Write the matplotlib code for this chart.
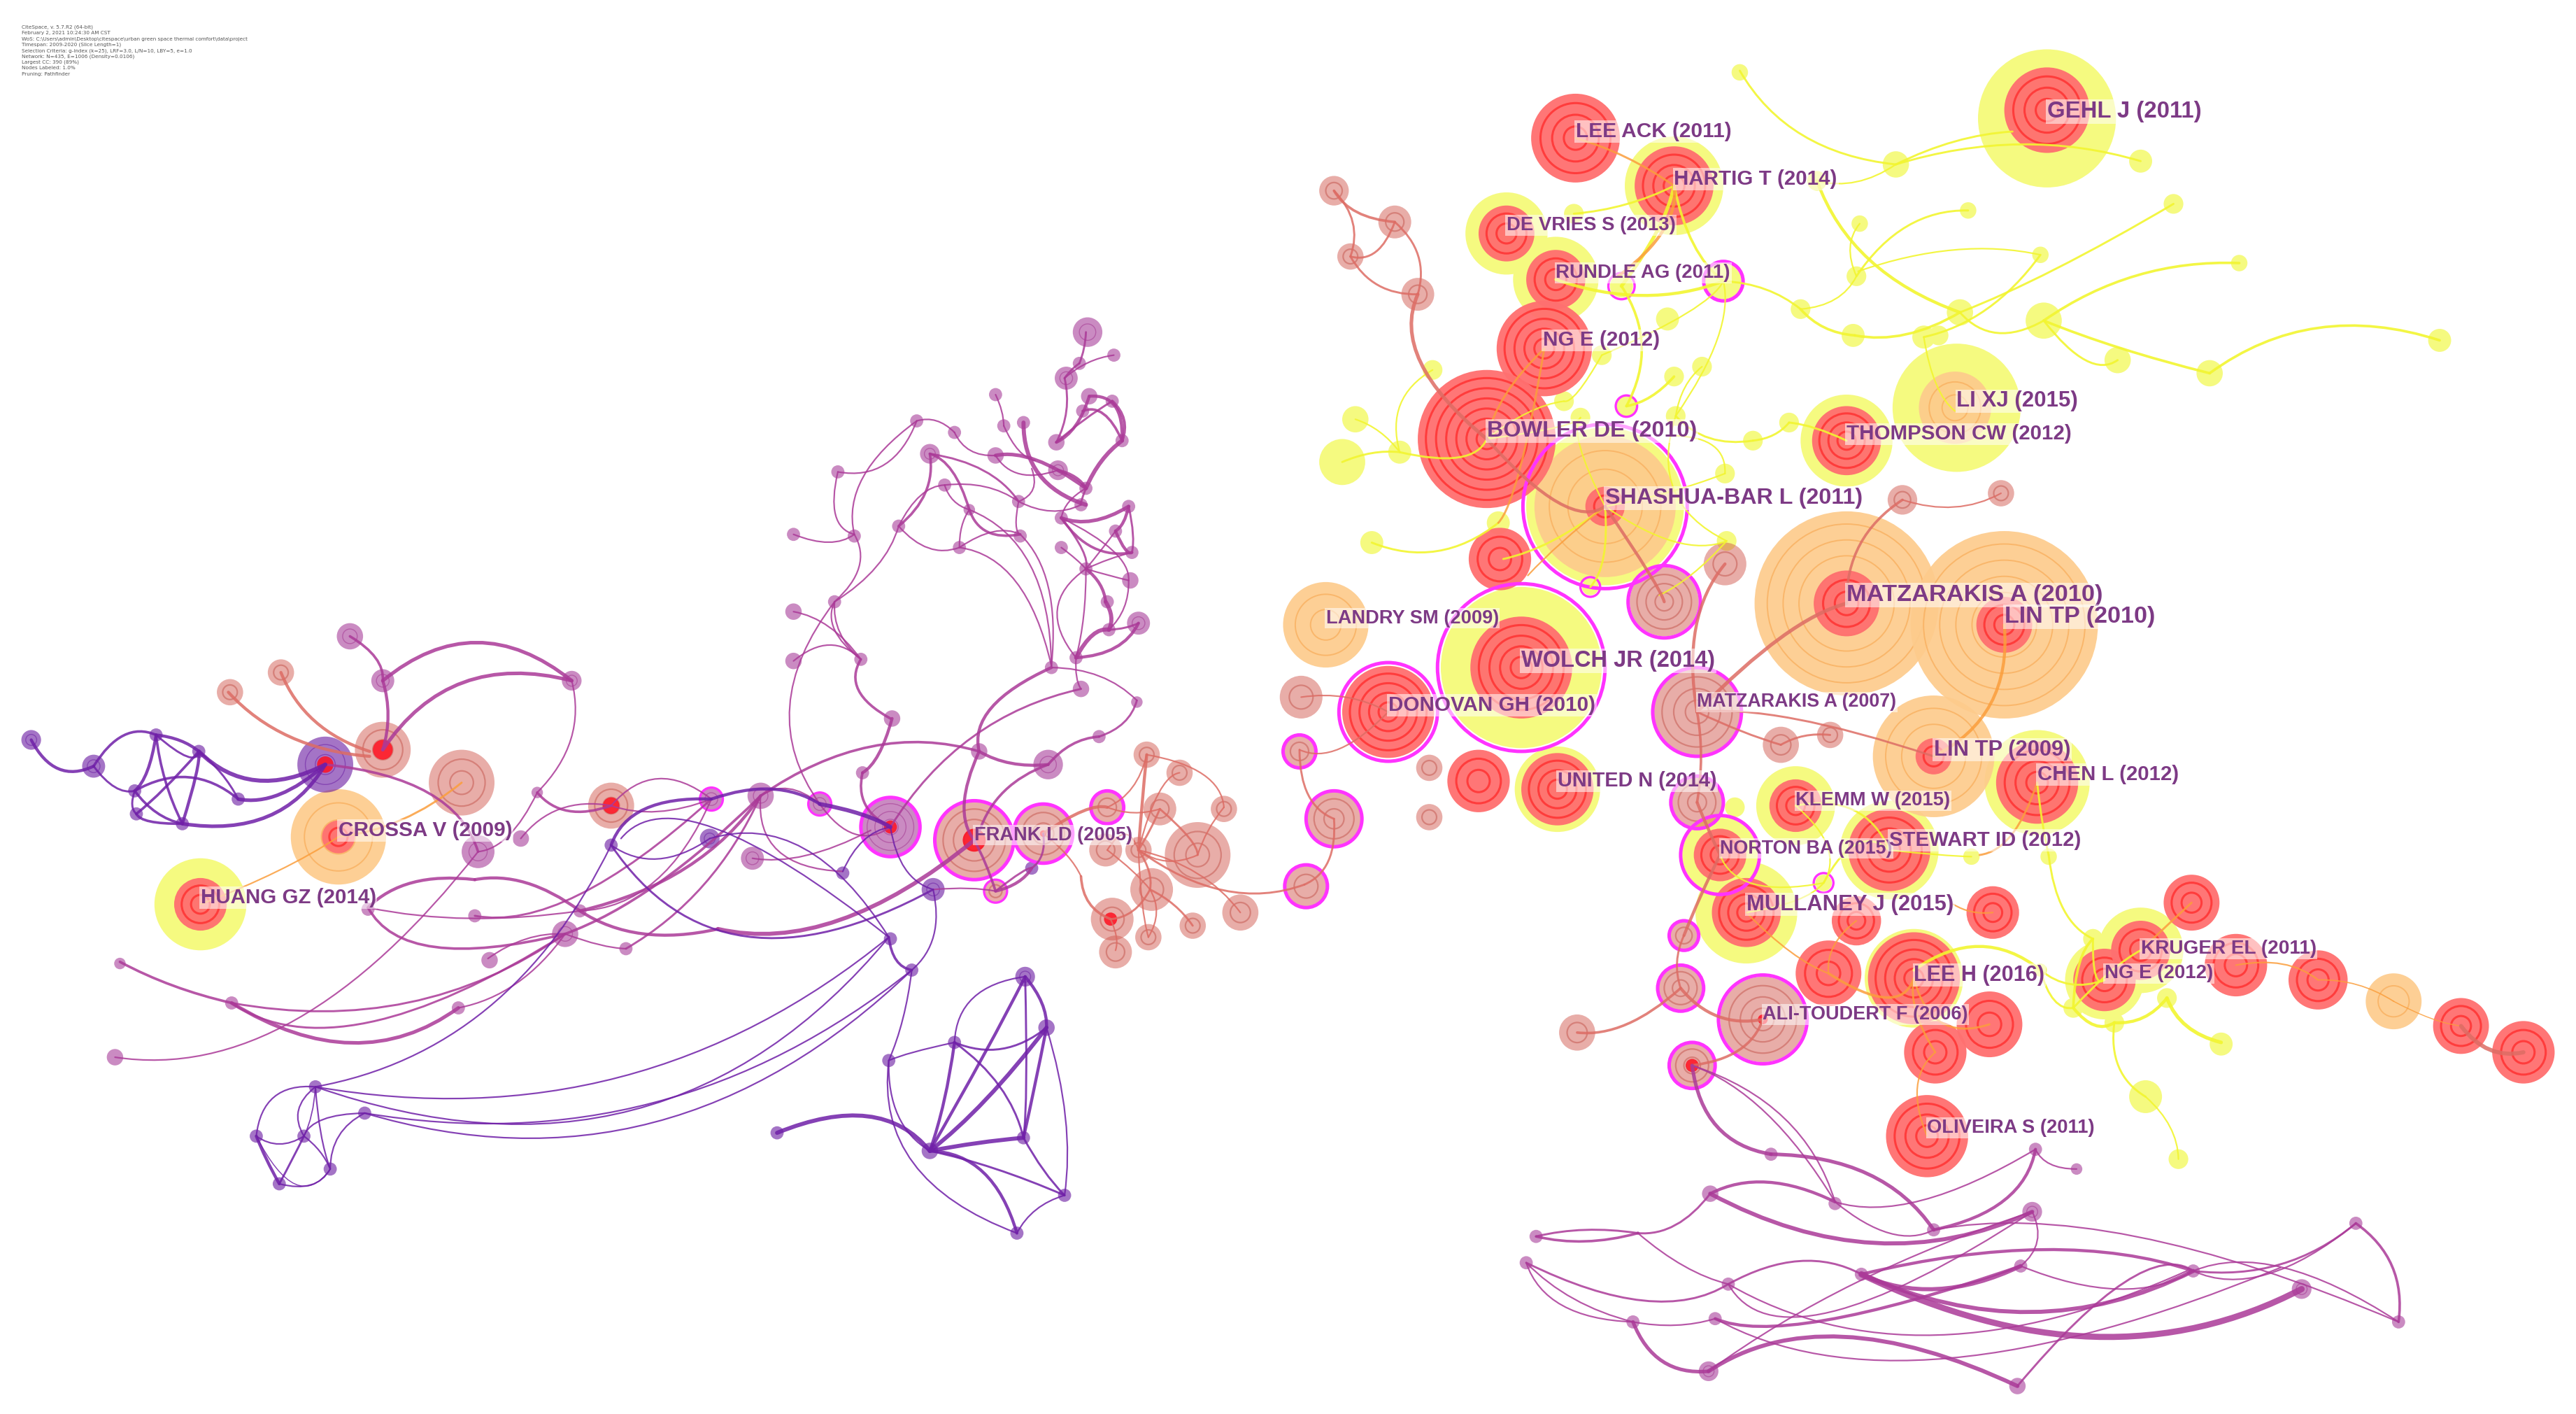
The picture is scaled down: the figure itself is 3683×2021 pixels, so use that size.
import matplotlib
matplotlib.use("Agg")
import matplotlib.pyplot as plt
from matplotlib.patches import Circle, PathPatch
from matplotlib.path import Path

# ---------- nodes: citation tree rings, (x, y) in layout units, radius = citation size ----------
yellow_x = [1246,1019,917,947,1191,1124,977,926,1240,948,1093,1047,1150,1063,1165,1281,1303,122,
            817,825,1154,958,1106,1132,1130,1096,1128,1171,1049,987,1015,975,1036,1019,990,952,962,1020,1089,1067,1050,872,852,912,835,1051,968,
            1059,1303,1323,1198,1242,1363,1193,1244,1180,1289,1345,1485,1110,
            1247,1200,1274,1262,1287,1319,1352,1306,1326,1242,1056]
yellow_y = [72,113,142,170,248,268,308,406,476,480,490,520,517,555,595,596,578,550,
            281,255,100,130,110,136,168,188,204,205,171,174,194,216,223,229,247,244,254,253,257,268,288,225,275,318,330,329,357,
            44,98,124,128,155,160,190,195,204,219,227,207,537,
            521,521,571,613,622,607,635,667,705,590,491]
yellow_r = [42,30,25,26,39,28,48,49,32,26,24,23,30,31,30,24,26,28,
            14,8,8,6,6,5,6,6,7,7,11,7,7,6,6,6,6,6,6,6,6,6,6,6,7,7,7,6,5,
            5,7,6,5,5,5,8,11,6,8,8,7,5,
            5,5,6,6,6,6,7,10,6,4,6]

orange_x = [977,1190,1124,1220,807,1177,1457,206]
orange_y = [308,248,367,380,380,460,609,509]
orange_r = [43,22,56,57,26,37,17,29]

red_x = [1246,959,1019,917,947,940,905,977,913,1124,1124,1220,926,845,1177,1240,948,900,1093,1047,1150,1063,
         1130,1213,1165,1113,1211,1178,1173,1281,1303,1334,1361,1411,1498,1536,122,206]
red_y = [67,84,113,142,170,212,267,308,340,268,367,380,406,433,460,476,480,475,490,520,517,555,
         560,555,595,592,623,640,691,596,578,549,587,596,624,640,550,509]
red_r = [26,27,24,17,18,29,42,12,19,21,20,17,31,28,11,25,22,19,16,16,25,21,
         15,16,28,20,20,19,25,19,18,17,19,18,17,19,16,10]

rose_x = [812,849,822,863,1013,1050,1158,1218,1033,1084,1114,870,870,792,1033,1025,1023,1073,960,1030,
          233,281,171,140,372,593,635,606,
          698,718,706,745,674,729,673,693,701,677,699,679,726,755,791,812,795]
rose_y = [116,135,156,179,366,343,304,300,433,453,447,467,497,424,488,569,601,620,628,648,
          456,476,409,421,490,511,507,542,
          459,470,492,492,491,520,517,517,541,559,570,579,563,555,457,498,539]
rose_r = [9,10,8,10,21,13,9,8,27,11,8,8,8,13,16,9,14,26,11,14,
          17,20,8,8,14,24,18,7,
          8,8,10,8,10,20,10,8,13,13,8,10,8,11,10,17,13]

mauve_x = [662,678,657,649,663,677,659,643,683,606,611,623,558,581,566,606,644,661,510,575,620,658,687,646,590,679,621,520,483,547,
           584,646,689,661,688,674,508,483,693,675,524,483,640,655,658,692,669,543,596,638,525,542,499,463,433,291,317,213,233,348,327,458,289,344,353,381,298,224,73,141,279,70,
           1239,1264,1078,1041,1117,1237,1177,935,929,1434,1335,1230,1133,1052,1401,994,1044,1460,1040,1228,997]
mauve_y = [202,216,221,230,241,244,250,269,268,240,259,257,256,263,276,277,286,297,287,295,305,307,308,315,310,323,326,326,325,320,
           333,333,336,346,353,366,366,372,379,383,401,402,406,400,419,427,448,437,457,465,470,503,489,484,486,518,510,387,414,414,482,522,557,568,554,577,584,553,586,610,613,643,
           699,711,702,726,732,737,748,752,768,744,773,770,775,781,784,804,802,804,834,843,750]
mauve_r = [9,4,4,7,5,4,4,5,4,4,4,4,4,4,6,5,6,4,4,4,4,4,4,4,3.5,4,4,4,4,4,
           4,4,4,4,5,4,4,5,7,4,4,5,4,4,5,3.5,4,5,5,9,4,18,7,8,7,10,5,8,7,6,3.5,7,4,8,4,4,5,4,3.5,4,4,5,
           4,3.5,4,5,4,6,4,4,4,4,4,4,4,4,6,4,4,4,6,5,1]

violet_x = [198,19,57,95,121,82,83,111,145,372,432,513,568,542,555,192,222,156,185,201,170,581,541,473,566,624,637,623,648,619,628]
violet_y = [465,450,466,447,457,481,495,501,486,514,510,531,541,571,590,661,677,691,691,711,720,634,645,689,700,594,625,692,727,750,528]
violet_r = [17,6,7,4,4,4,4,4,4,4,6,4,7,4,4,4,4,4,4,4,4,4,4,4,5,6,5,4,4,4,4]

# citation bursts / high-centrality purple rims
rim_x = [977,926,845,1013,1033,1033,1047,1110,1025,1023,1073,1030,1049,987,990,968,593,635,674,606,542,499,433,791,812,795]
rim_y = [308,406,433,366,433,488,520,537,569,601,620,648,171,174,247,357,511,507,491,542,503,489,486,457,498,539]
rim_r = [50,51,30,22,27,16,24,6,9,14,27,14,12,8,6.5,6,24,18,10,7,18,7,7,10,17,13]

core_x = [198,233,372,593,542,676,1030,1073,635]
core_y = [465,456,490,511,503,559,648,620,507]
core_r = [5,6,5,7,4,4,4,3,2]

# ---------- edges: start, point on the curve, end, co-citation strength ----------
yellow_edges = [
 (1059,43,1095,85,1154,100,2),(1154,100,1190,85,1225,80,2),(1106,110,1130,112,1154,100,1.5),(1154,100,1230,85,1303,98,2),
 (1106,110,1135,160,1193,190,3),(1193,190,1250,165,1323,124,2),(1244,195,1300,165,1363,160,2.5),(1129,204,1160,205,1193,190,2.5),
 (1096,188,1110,200,1129,204,2.5),(1049,171,1075,175,1096,188,2),(1096,188,1118,183,1130,168,1.5),(1130,168,1125,150,1132,136,1.5),
 (1130,168,1160,135,1198,128,2),(1171,205,1210,190,1242,155,2),(1193,190,1215,205,1244,195,2),(1171,205,1178,235,1190,250,1.5),
 (1244,195,1290,212,1345,227,2.5),(1345,227,1410,195,1485,207,2.5),(1289,219,1270,222,1244,195,2),(1131,165,1190,150,1242,155,1.5),
 (1019,113,990,125,958,130,2),(1019,113,1010,140,987,174,3.5),(1019,113,1030,150,1049,171,2.5),(947,170,1000,182,1049,171,3),
 (987,174,1002,210,990,247,2.5),(1049,171,1048,205,1020,253,1.5),(1049,171,1030,190,975,216,1.5),(990,247,1005,242,1019,229,2.5),
 (975,216,960,240,952,244,1.5),(1036,223,1025,235,1020,253,1.5),(1020,253,1015,300,1051,329,1.5),(872,225,850,245,852,275,1.5),
 (825,255,840,262,852,275,1.5),(817,281,835,275,852,275,2),(852,275,890,280,905,267,2),(952,244,930,250,905,267,1.5),
 (962,254,950,260,905,267,1.5),(1020,253,1040,268,1067,268,2),(1067,268,1080,265,1089,257,2),(1089,257,1105,260,1124,268,2),
 (1020,265,1045,270,1050,288,1.5),(977,308,1015,300,1050,288,1.5),(977,308,1020,332,1051,329,1.5),(835,330,875,338,912,318,2),
 (977,308,977,340,968,357,2),(977,308,945,330,915,340,2),(1051,329,1030,350,1010,362,1.5),(977,308,960,270,962,254,1.5),
 (1247,520,1255,555,1274,571,2),(1240,476,1243,500,1247,520,2),(1319,607,1330,625,1352,634,3.5),(1287,622,1288,650,1306,667,2),
 (1306,667,1322,685,1326,705,1.5),(1242,590,1205,572,1165,590,3),(1242,590,1260,600,1281,596,2),(1242,590,1250,610,1262,613,2),
 (1262,613,1275,625,1287,622,3),(1287,622,1305,620,1319,607,3),(1274,571,1265,585,1262,613,2.5),(1274,571,1275,595,1281,596,2),
 (1110,537,1095,548,1063,555,1.5),(1110,537,1130,510,1150,517,2),(1093,490,1130,490,1150,517,2),(1093,490,1115,515,1110,537,1.5),
 (1047,520,1065,540,1110,537,1.5),(1303,578,1285,590,1262,613,2),(1150,517,1180,520,1200,521,1.5),
]
orange_edges = [
 (1303,578,1320,562,1334,549,2),(1361,587,1390,585,1411,596,1.5),(1411,596,1435,598,1457,609,1.2),(1457,609,1480,620,1498,624,1),
 (1220,380,1215,430,1177,460,3),(959,84,990,95,1019,113,2),(940,212,915,240,905,267,2),(912,318,925,290,940,212,2),
 (1063,555,1090,580,1113,592,1.5),(1113,592,1150,610,1165,595,2.5),(1165,595,1180,625,1211,623,2),(1178,640,1165,660,1173,691,1.5),
 (1130,560,1115,575,1113,592,1.5),(1178,640,1165,615,1165,595,2),(1189,550,1200,555,1213,555,1.5),(122,550,170,530,206,509,1.5),
 (206,509,245,500,281,476,2),(1019,113,1015,140,985,168,3),(977,308,950,330,930,350,1.5),(1240,476,1225,510,1205,520,2),
]
rose_edges = [
 (1124,367,1085,385,1033,433,3.5),(1124,367,1130,330,1158,304,2.5),(1158,304,1190,310,1218,300,1.5),(1050,343,1030,380,1033,433,3),
 (1033,433,1090,435,1177,460,2),(1033,433,1060,445,1084,453,2),(1084,453,1098,447,1114,447,2),(977,308,1005,350,1013,366,3),
 (905,267,950,310,977,308,3),(812,116,825,130,849,135,2.5),(812,116,825,135,822,156,2),(822,156,838,155,849,135,2),
 (822,156,838,175,863,179,2),(849,135,865,155,863,179,2),(863,179,860,220,905,267,3.5),(1030,648,1060,640,1073,620,2.5),
 (960,628,990,625,1023,601,2.5),(1023,601,1045,620,1073,620,3),(1047,520,1035,545,1025,569,3),(1025,569,1020,585,1023,601,2),
 (1033,488,1040,505,1047,520,3),(1033,433,1036,460,1033,488,2.5),(1498,624,1515,640,1536,640,4),
 (139,421,175,450,225,460,3),(171,409,190,440,225,457,3),
 (635,507,660,492,674,491,3),(674,491,690,480,698,459,1.5),(674,491,690,495,706,492,1.5),(698,459,695,490,693,517,3),
 (698,459,735,470,745,491,1.5),(745,491,735,505,729,520,1.5),(718,470,705,480,693,517,1.5),(706,492,700,505,693,517,2),
 (693,517,710,525,729,520,1.5),(693,517,745,545,794,538,2),(794,538,810,525,812,498,2),(791,456,795,485,812,498,2),
 (792,424,820,423,845,433,1.5),(791,456,815,458,845,433,1.5),(693,517,700,530,700,541,2),(674,517,690,530,700,541,1.5),
 (700,541,715,550,726,563,2),(693,517,695,550,699,570,1.5),(699,570,705,555,700,541,1.5),(676,559,690,555,700,541,2),
 (693,517,730,530,755,555,1.5),(676,559,680,570,679,578,1.5),(658,533,662,550,676,559,2.5),(635,507,650,520,658,533,1.5),
 (674,517,685,505,693,517,1.5),(706,492,725,510,729,520,2),
]
mauve_edges = [
 (638,465,652,452,669,448,2.5),(669,448,685,440,692,426,2),(692,426,670,410,640,406,1.5),(658,419,590,445,542,503,2),
 (640,406,600,430,596,457,3),(596,457,585,490,593,511,3),(463,484,530,450,596,457,2.5),(596,457,615,465,638,465,3),
 (596,506,610,480,638,465,2.5),(525,470,535,460,543,437,3),(525,470,525,490,542,503,2.5),(542,437,520,420,524,401,2.5),
 (524,401,510,385,508,366,1.5),(524,401,506,383,508,366,1.5),(483,372,505,380,524,401,1.5),(483,402,505,390,524,401,1.5),
 (508,366,475,430,499,489,1.5),(508,366,535,345,547,320,1.5),(510,287,507,315,520,325,1.5),(483,325,505,331,520,325,1.5),
 (510,287,540,285,558,256,1.5),(558,256,522,290,520,325,1.5),(520,325,525,345,508,366,1.5),(558,256,570,255,581,263,1.5),
 (581,263,590,275,606,277,1.5),(566,276,565,300,547,320,2.5),(566,276,580,285,590,310,2.5),(566,276,600,285,620,305,2),
 (547,320,560,300,575,295,1.5),(575,295,600,295,620,305,1.5),(590,310,600,325,621,325,2.5),(590,310,585,320,584,333,1.5),
 (575,295,580,305,590,310,1.5),(547,320,565,335,584,333,1.5),(584,333,605,322,621,325,1.5),(584,333,620,350,640,405,1.5),
 (590,310,630,340,640,405,1.5),(621,325,640,355,640,405,1.5),(620,305,618,320,621,325,1.5),(620,305,640,312,658,307,1.5),
 (606,277,630,278,661,297,3.5),(606,277,620,290,644,286,1.5),(623,257,630,290,661,307,4),(606,240,610,250,611,259,1.5),
 (611,259,620,275,630,280,1.5),(644,286,655,290,661,297,3),(628,285,630,298,620,305,1.5),(661,297,650,305,646,315,1.5),
 (661,297,670,280,683,268,4),(661,297,658,305,658,307,2),(643,269,650,250,648,230,2),(643,269,655,260,663,241,3),
 (643,269,660,255,677,244,2),(663,241,680,245,683,268,3),(677,244,685,255,683,268,3),(659,250,672,250,683,268,2.5),
 (648,230,662,220,678,216,1.5),(661,202,660,212,657,221,2),(657,221,652,225,648,230,2),(646,315,665,318,687,308,3.5),
 (646,315,665,335,689,336,2.5),(646,315,660,335,661,346,2),(687,308,684,318,679,323,3),(687,308,690,325,689,336,2),
 (679,323,685,335,689,336,3),(661,346,670,335,679,323,1.5),(661,346,675,340,689,336,1.5),(646,333,655,340,661,346,1.5),
 (661,346,675,350,687,353,1.5),(661,346,670,355,673,366,3),(673,366,677,375,675,383,4),(687,353,685,370,675,383,1.5),
 (646,315,680,335,687,353,1.5),(661,346,640,370,655,400,1.5),(661,346,660,375,655,400,1.5),(655,400,665,385,675,383,4),
 (655,400,680,395,693,379,3),(675,383,685,382,693,379,2),(655,400,655,412,658,419,1.5),
 (606,542,620,537,628,528,3),(606,542,622,530,628,528,2),(593,511,600,525,606,542,2.5),(628,528,635,520,635,507,2),
 (568,541,590,540,606,542,1.5),(593,511,510,565,437,565,4),(437,565,390,570,353,554,3),(353,554,320,535,289,535,3),
 (289,535,250,535,224,552,3),(224,552,285,560,353,554,1.5),(224,552,260,580,344,568,2.5),(344,568,400,540,463,484,2.5),
 (289,557,350,550,433,486,2),(353,554,420,530,463,484,3),(381,577,430,540,463,484,2),(344,568,365,575,381,577,1.5),
 (297,583,320,570,344,568,1.5),(73,585,105,600,141,610,2.5),(141,610,250,615,344,568,2),(141,610,220,630,344,568,2),
 (141,610,215,640,279,613,3.5),(279,613,315,600,344,568,1.5),(70,643,180,630,291,518,1.5),(291,518,265,480,198,465,2.5),
 (213,387,230,400,233,414,2.5),(233,414,237,435,233,456,3),(233,414,290,385,348,414,3.5),(233,456,280,410,348,414,3.5),
 (348,414,350,450,327,482,1.5),(327,482,310,510,291,518,1.5),(327,482,345,495,372,490,2.5),(372,490,400,470,433,486,1.5),
 (317,510,340,490,372,490,1.5),(372,490,400,495,433,486,1.5),(463,484,480,478,499,489,1.5),(458,522,490,522,530,505,1.5),
 (433,486,400,540,353,554,1.5),(463,484,470,520,513,530,1.5),(499,489,520,510,542,503,1.5),
]
lower_edges = [
 (1030,648,1045,685,1078,702,3.5),(1030,648,1086,680,1117,731,1.5),(1030,648,1075,677,1117,731,1.5),(1078,702,1137,714,1177,748,3.5),
 (1041,726,1076,719,1117,731,3),(1041,726,1141,756,1237,737,4),(1117,731,1170,730,1239,699,1.5),(1117,731,1150,750,1177,748,1.5),
 (1177,748,1220,730,1239,699,3),(1239,699,1248,708,1264,711,1.5),(935,752,965,748,997,750,2),(935,752,965,755,997,750,2.5),
 (997,750,1020,745,1041,726,2),(997,750,1025,770,1052,781,1.5),(929,768,951,794,994,804,1.5),(929,768,958,790,994,804,1.5),
 (929,768,1000,791,1052,781,2),(994,804,1020,806,1044,802,1.5),(994,804,1012,828,1040,834,3.5),(1040,834,1122,813,1228,843,4),
 (1237,737,1130,780,1040,834,1.5),(1044,802,1111,803,1230,770,3),(1044,802,1187,826,1388,771,1.5),(1052,781,1095,767,1133,775,2),
 (1052,781,1179,812,1331,773,1.5),(1052,781,1114,798,1237,737,1.5),(1133,775,1179,784,1230,770,4),(1133,775,1236,798,1335,773,4),
 (1133,775,1274,813,1401,784,6),(1133,775,1244,760,1335,773,3),(1237,737,1240,755,1230,770,1.5),(1228,843,1293,780,1335,773,2),
 (1230,770,1289,784,1335,773,1.5),(1335,773,1388,769,1434,744,2),(1335,773,1380,775,1434,744,1.5),(1434,744,1456,770,1460,804,2.5),
 (1177,748,1300,752,1460,804,1.5),(1335,773,1390,771,1460,804,1.5),
]
violet_edges = [
 (19,450,35,470,57,466,3),(57,466,75,445,95,447,2.5),(57,466,70,480,82,481,2),(95,447,110,450,121,457,3),(95,447,90,470,82,481,3),
 (95,447,100,475,111,501,2.5),(121,457,120,470,111,501,3),(121,457,100,480,83,495,2.5),(121,457,135,470,145,486,2),(82,481,115,470,145,486,2.5),
 (82,481,95,495,111,501,2.5),(83,495,90,500,111,501,2.5),(82,481,80,490,83,495,2),(121,457,155,478,198,465,4),(145,486,170,485,198,465,3.5),
 (111,501,165,500,198,465,3.5),(95,447,115,462,121,457,2),
 (542,503,550,530,568,541,1.5),(499,489,525,495,542,503,4),(433,486,470,478,499,489,3),(513,530,525,510,542,503,1.5),
 (192,661,300,620,372,514,1.5),(372,514,390,490,433,486,3),(372,514,400,525,432,510,1.5),(372,514,450,580,568,541,2),
 (432,510,490,510,541,570,1.5),(378,510,430,495,541,570,1.5),(541,570,545,585,555,590,2.5),(555,590,570,570,568,541,1.5),
 (555,590,550,620,541,645,1.5),(192,661,390,690,541,570,1.5),(192,661,380,665,541,570,1.5),(222,677,400,680,555,590,1.5),
 (222,677,400,695,555,590,1.5),(192,661,165,665,156,691,1.5),(192,661,180,675,185,691,1.5),(192,661,195,690,201,711,1.5),
 (192,661,190,678,185,691,1.2),(222,677,195,680,185,691,1.5),(222,677,205,690,201,711,1.5),(156,691,170,697,185,691,1.5),
 (156,691,162,705,170,720,3),(170,720,178,705,185,691,2),(170,720,190,722,201,711,1.5),(185,691,195,700,201,711,1.5),
 (156,691,180,725,201,711,1),(541,645,555,640,581,634,1.5),(473,689,530,675,566,700,4),(541,645,545,680,566,700,1.5),
 (541,645,550,710,619,750,1.5),(566,700,600,710,619,750,3),(566,700,605,710,648,727,2),(581,634,575,670,566,700,3),
 (624,594,600,640,566,700,3),(637,625,600,670,566,700,4),(624,594,625,660,623,692,2),(637,625,630,660,623,692,3),
 (581,634,610,660,623,692,2),(623,692,595,695,566,700,4),(623,692,635,712,648,727,2),(637,625,650,680,648,727,1.5),
 (581,634,590,605,624,594,1.5),(624,594,635,610,637,625,3),(581,634,610,640,637,625,2),(648,727,630,735,619,750,1.5),
]

# ---------- labels ----------
label_text = ["GEHL J (2011)","LEE ACK (2011)","HARTIG T (2014)","DE VRIES S (2013)","RUNDLE AG (2011)","NG E (2012)",
              "BOWLER DE (2010)","SHASHUA-BAR L (2011)","LI XJ (2015)","THOMPSON CW (2012)","MATZARAKIS A (2010)","LIN TP (2010)",
              "LANDRY SM (2009)","WOLCH JR (2014)","DONOVAN GH (2010)","MATZARAKIS A (2007)","LIN TP (2009)","CHEN L (2012)",
              "UNITED N (2014)","KLEMM W (2015)","NORTON BA (2015)","STEWART ID (2012)","MULLANEY J (2015)","LEE H (2016)",
              "KRUGER EL (2011)","NG E (2012)","ALI-TOUDERT F (2006)","OLIVEIRA S (2011)","FRANK LD (2005)","CROSSA V (2009)","HUANG GZ (2014)"]
label_x = [1246,959,1019,917,947,939,905,977,1191,1124,1124,1220,807,926,845,1033,1177,1240,948,1093,1047,1150,1063,1165,1303,1281,1073,1173,593,206,122]
label_y = [68,80,109,137,166,207,262,303,244,264,362,375,376,402,429,427,456,471,475,487,516,511,550,593,577,592,617,686,508,505,546]
label_w = [94,95,99,103,106,71,128,157,74,137,156,92,105,118,126,122,83,86,97,94,105,117,126,80,107,66,125,102,96,106,107]

info_lines = ["CiteSpace, v. 5.7.R2 (64-bit)",
              "February 2, 2021 10:24:30 AM CST",
              "WoS: C:\\Users\\admin\\Desktop\\citespace\\urban green space thermal comfort\\data\\project",
              "Timespan: 2009-2020 (Slice Length=1)",
              "Selection Criteria: g-index (k=25), LRF=3.0, L/N=10, LBY=5, e=1.0",
              "Network: N=435, E=1006 (Density=0.0106)",
              "Largest CC: 390 (89%)",
              "Nodes Labeled: 1.0%",
              "Pruning: Pathfinder"]

fig = plt.figure(figsize=(36.83, 20.21), dpi=100)
ax = fig.add_axes([0, 0, 1, 1])
ax.set_xlim(0, 1568)
ax.set_ylim(860, 0)
ax.axis("off")


def discs(xs, ys, rs, fill, ring, alpha, z, ring_step=8.0, ring_lw=1.8, ring_alpha=0.6):
    for i, (x, y, r) in enumerate(zip(xs, ys, rs)):
        zi = z + i * 0.0005
        ax.add_patch(Circle((x, y), r, fc=fill, ec="none", alpha=alpha, zorder=zi))
        n = max(1, int(r / ring_step)) if r >= 6 else 0
        for k in range(1, n + 1):
            ax.add_patch(Circle((x, y), r * k / (n + 0.8), fc="none", ec=ring, lw=ring_lw,
                                alpha=ring_alpha, zorder=zi))


def edges(lst, color, alpha=0.85, bulge=1.6, scale=1.05):
    for x0, y0, xm, ym, x1, y1, w in lst:
        mx, my = (x0 + x1) / 2, (y0 + y1) / 2
        cx, cy = mx + bulge * (xm - mx), my + bulge * (ym - my)
        p = Path([(x0, y0), (cx, cy), (x1, y1)], [Path.MOVETO, Path.CURVE3, Path.CURVE3])
        ax.add_patch(PathPatch(p, fc="none", ec=color, lw=w * scale, alpha=alpha, zorder=5, capstyle="round"))


discs(yellow_x, yellow_y, yellow_r, "#f5fa80", "#f5fa80", 1.0, 1, ring_step=1e3)
discs(orange_x, orange_y, orange_r, "#fdcb8c", "#f9b060", 0.92, 1.5, ring_step=11, ring_lw=1.4, ring_alpha=0.8)
discs(rose_x, rose_y, rose_r, "#d0544a", "#c4544c", 0.48, 2, ring_step=7, ring_lw=1.6, ring_alpha=0.5)
discs(mauve_x, mauve_y, mauve_r, "#a02c90", "#a0308e", 0.55, 2, ring_step=6, ring_lw=1.0, ring_alpha=0.5)
discs(violet_x, violet_y, violet_r, "#6818a0", "#6818a0", 0.6, 2, ring_step=6, ring_lw=1.0, ring_alpha=0.5)
discs(red_x, red_y, red_r, "#ff7070", "#ff2e2e", 0.96, 3, ring_step=7, ring_lw=2.2, ring_alpha=0.8)
ax.scatter(core_x, core_y, s=[(r * 2.349 * 1.44) ** 2 for r in core_r], c="#ff1020", alpha=0.85, lw=0, zorder=3.5)
for x, y, r in zip(rim_x, rim_y, rim_r):
    ax.add_patch(Circle((x, y), r, fc="none", ec="#ff33ff", lw=3.6 if r > 8 else 2.4, zorder=4))

edges(yellow_edges, "#f2f530", alpha=0.9)
edges(orange_edges, "#fb9e3c")
edges(rose_edges, "#dd6c64")
edges(mauve_edges, "#ab3a98")
edges(lower_edges, "#ab3a98", bulge=2.0)
edges(violet_edges, "#7020a8")

fig.canvas.draw()
rend = fig.canvas.get_renderer()
for s, x, y, w in zip(label_text, label_x, label_y, label_w):
    t = ax.text(x, y, s, ha="left", va="center", family="Liberation Sans", fontweight="bold", fontsize=20,
                color="#7d3a85", zorder=8,
                bbox=dict(boxstyle="square,pad=0.06", fc="white", ec="none", alpha=0.55))
    target = w * 2.349
    t.set_fontsize(20 * target / t.get_window_extent(rend).width)

for i, s in enumerate(info_lines):
    ax.text(13, 16.6 + i * 3.55, s, family="DejaVu Sans", fontsize=5.2, color="#555555", va="center", ha="left")

fig.savefig("out.png", dpi=100, facecolor="white")
